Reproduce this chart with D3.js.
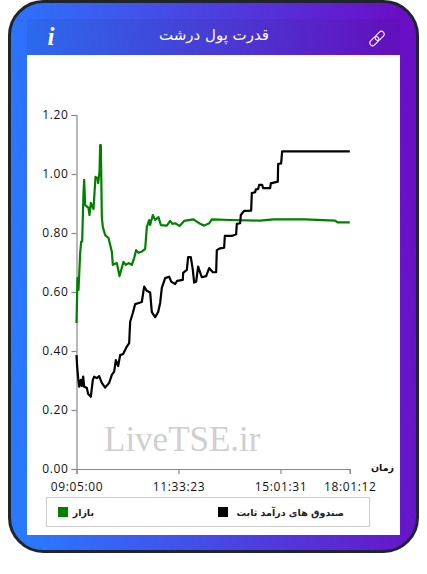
<!DOCTYPE html>
<html>
<head>
<meta charset="utf-8">
<title>قدرت پول درشت</title>
<style>
html, body { margin: 0; padding: 0; background: #fff; }
svg { display: block; }
.axis path, .axis line { stroke: #888; stroke-width: 1.2; }
.axis text { font-family: "Open Sans", sans-serif; font-size: 12px; letter-spacing: 0.65px; fill: #111; }
.fa { font-family: "DejaVu Sans", sans-serif; }
</style>
<script src="https://d3js.org/d3.v7.min.js"></script>
</head>
<body>
<script>
const titleText = "قدرت پول درشت";
const xAxisName = "زمان";
const watermark = "LiveTSE.ir";
const seriesNames = ["بازار", "صندوق های درآمد ثابت"];
const seriesColors = ["#008000", "#000000"];

// sample number along the session, the axis is not linear in clock time
const tickSamples = [0, 306, 612, 820];
const tickTimes = ["09:05:00", "11:33:23", "15:01:31", "18:01:12"];
const yTicks = [0, 0.2, 0.4, 0.6, 0.8, 1.0, 1.2];

const marketSamples = [0, 3, 6, 11, 14, 17, 21, 23, 26, 36, 39, 43, 51, 54, 57, 63, 65, 69, 71, 73, 76, 79, 86, 96, 106, 109, 121, 129, 141, 148, 156, 166, 173, 179, 186, 196, 206, 211, 218, 221, 229, 236, 246, 253, 271, 281, 288, 296, 309, 323, 351, 371, 383, 398, 406, 461, 551, 591, 686, 776, 783, 820];
const marketValues = [0.495, 0.647, 0.607, 0.732, 0.771, 0.771, 0.936, 0.98, 0.895, 0.885, 0.861, 0.902, 0.881, 0.936, 0.99, 0.986, 0.969, 1.007, 1.098, 1.098, 0.854, 0.82, 0.793, 0.783, 0.736, 0.692, 0.698, 0.654, 0.702, 0.692, 0.698, 0.692, 0.715, 0.742, 0.733, 0.737, 0.746, 0.82, 0.844, 0.827, 0.861, 0.844, 0.854, 0.827, 0.825, 0.841, 0.831, 0.833, 0.824, 0.841, 0.846, 0.831, 0.825, 0.833, 0.846, 0.844, 0.842, 0.846, 0.846, 0.842, 0.836, 0.836];

const fundSamples = [0, 2, 5, 8, 13, 16, 20, 23, 31, 35, 43, 49, 53, 61, 68, 76, 86, 98, 106, 113, 118, 125, 131, 140, 151, 158, 161, 169, 176, 196, 203, 211, 221, 226, 236, 245, 251, 256, 266, 278, 284, 296, 302, 319, 320, 331, 335, 343, 349, 353, 359, 365, 376, 389, 398, 409, 419, 421, 431, 443, 445, 466, 479, 481, 491, 493, 503, 524, 526, 536, 538, 545, 548, 557, 560, 581, 583, 604, 605, 614, 617, 820];
const fundValues = [0.386, 0.347, 0.308, 0.279, 0.302, 0.281, 0.313, 0.279, 0.275, 0.254, 0.245, 0.302, 0.313, 0.308, 0.315, 0.292, 0.276, 0.292, 0.319, 0.33, 0.369, 0.349, 0.386, 0.39, 0.415, 0.427, 0.499, 0.529, 0.559, 0.566, 0.618, 0.604, 0.598, 0.532, 0.515, 0.532, 0.563, 0.614, 0.647, 0.652, 0.635, 0.627, 0.638, 0.641, 0.665, 0.675, 0.718, 0.718, 0.675, 0.632, 0.635, 0.686, 0.65, 0.654, 0.681, 0.667, 0.667, 0.742, 0.748, 0.75, 0.79, 0.79, 0.796, 0.831, 0.833, 0.861, 0.875, 0.876, 0.935, 0.938, 0.948, 0.949, 0.963, 0.963, 0.952, 0.952, 0.968, 0.974, 1.034, 1.036, 1.077, 1.077];

const width = 427, height = 574;
const svg = d3.select("body").append("svg").attr("width", width).attr("height", height);

// card
const grad = svg.append("defs").append("linearGradient").attr("id", "cardGrad")
	.attr("x1", "0%").attr("y1", "55%").attr("x2", "100%").attr("y2", "45%");
grad.append("stop").attr("offset", "0%").attr("stop-color", "#2979ff");
grad.append("stop").attr("offset", "100%").attr("stop-color", "#6a0fc6");

svg.append("rect").attr("x", 9.5).attr("y", 1.5).attr("width", 408).attr("height", 550)
	.attr("rx", 34).attr("fill", "url(#cardGrad)").attr("stroke", "#20242c").attr("stroke-width", 3);
svg.append("rect").attr("x", 27).attr("y", 19).attr("width", 373).attr("height", 36)
	.attr("fill", "#000").attr("fill-opacity", 0.05);
svg.append("rect").attr("x", 27).attr("y", 55).attr("width", 373).attr("height", 480).attr("fill", "#fff");

// header
svg.append("text").attr("class", "fa").attr("x", 214).attr("y", 40).attr("text-anchor", "middle")
	.attr("font-size", 15).attr("fill", "#fff").text(titleText);
svg.append("text").attr("x", 51).attr("y", 45).attr("text-anchor", "middle")
	.attr("font-family", "Liberation Serif").attr("font-style", "italic").attr("font-weight", "bold")
	.attr("font-size", 25).attr("fill", "#fff").text("i");
const linkIcon = svg.append("g").attr("transform", "translate(377,38.5) rotate(-45)")
	.attr("fill", "none").attr("stroke", "#fff").attr("stroke-width", 1);
linkIcon.append("rect").attr("x", -9).attr("y", -2.8).attr("width", 10.5).attr("height", 5.6).attr("rx", 2.8);
linkIcon.append("rect").attr("x", -1.5).attr("y", -2.8).attr("width", 10.5).attr("height", 5.6).attr("rx", 2.8);

// scales
const x = d3.scaleLinear().domain([0, 820]).range([76.5, 349.8]);
const y = d3.scaleLinear().domain([0, 1.2]).range([469, 115]);

svg.append("text").attr("x", 104).attr("y", 451)
	.attr("font-family", "Liberation Serif").attr("font-size", 35)
	.attr("fill", "#cfcfcf").text(watermark);

svg.append("g").attr("class", "axis").attr("transform", "translate(76.5,0)")
	.call(d3.axisLeft(y).tickValues(yTicks).tickFormat(d3.format(".2f")).tickSizeOuter(0).tickSize(5).tickPadding(3));
svg.append("g").attr("class", "axis").attr("transform", "translate(0,469)")
	.call(d3.axisBottom(x).tickValues(tickSamples).tickFormat((d, i) => tickTimes[i]).tickSizeOuter(0).tickSize(5).tickPadding(8));

svg.append("text").attr("class", "fa").attr("x", 394).attr("y", 471).attr("text-anchor", "end")
	.attr("font-size", 9.5).attr("font-weight", "bold").attr("fill", "#111").text(xAxisName);

// lines
const line = d3.line().x(d => x(d[0])).y(d => y(d[1]));
svg.append("path").datum(d3.zip(marketSamples, marketValues))
	.attr("d", line).attr("fill", "none").attr("stroke", seriesColors[0]).attr("stroke-width", 2.2).attr("stroke-linejoin", "round");
svg.append("path").datum(d3.zip(fundSamples, fundValues))
	.attr("d", line).attr("fill", "none").attr("stroke", seriesColors[1]).attr("stroke-width", 2.2).attr("stroke-linejoin", "round");

// legend
svg.append("rect").attr("x", 46.5).attr("y", 497.5).attr("width", 323).attr("height", 29)
	.attr("fill", "#fff").attr("stroke", "#ccc");
const legendSwatchX = [58, 218];
const legendTextX = [94, 344];
seriesNames.forEach(function(name, i) {
	svg.append("rect").attr("x", legendSwatchX[i]).attr("y", 507).attr("width", 10).attr("height", 10)
		.attr("fill", seriesColors[i]);
	svg.append("text").attr("class", "fa").attr("x", legendTextX[i]).attr("y", 516).attr("text-anchor", "end")
		.attr("font-size", 9.5).attr("font-weight", "bold").attr("fill", "#222").text(name);
});
</script>
</body>
</html>
